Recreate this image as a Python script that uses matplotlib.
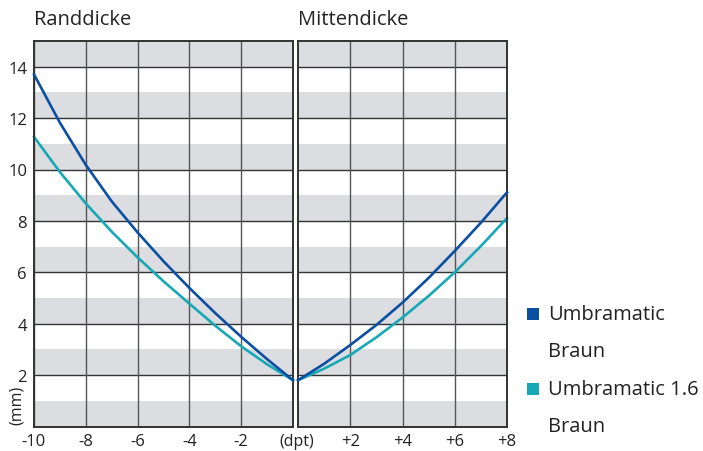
import matplotlib
matplotlib.use('Agg')
import matplotlib.pyplot as plt
from matplotlib.patches import Rectangle

plt.rcParams['font.family'] = ['Open Sans', 'DejaVu Sans']

# Randdicke (minus lenses), dpt -> mm
dpt_minus = [-10, -9, -8, -7, -6, -5, -4, -3, -2, -1, 0]
rand_umbramatic = [13.7, 11.82, 10.18, 8.76, 7.55, 6.43, 5.39, 4.41, 3.49, 2.62, 1.8]
rand_umbramatic16 = [11.27, 9.9, 8.68, 7.58, 6.58, 5.65, 4.78, 3.92, 3.12, 2.42, 1.8]

# Mittendicke (plus lenses)
dpt_plus = [0, 1, 2, 3, 4, 5, 6, 7, 8]
mitte_umbramatic = [1.8, 2.44, 3.17, 3.95, 4.82, 5.78, 6.83, 7.93, 9.11]
mitte_umbramatic16 = [1.8, 2.25, 2.78, 3.47, 4.24, 5.08, 6.0, 7.02, 8.11]

xticks_minus = [-10, -8, -6, -4, -2]
xticks_plus = [2, 4, 6, 8]
yticks = [2, 4, 6, 8, 10, 12, 14]
series_labels = ['Umbramatic\nBraun', 'Umbramatic 1.6\nBraun']

dark_blue = '#0b4fa3'
teal = '#16a9b5'
band = '#dcdde0'
txt = '#222222'

fig = plt.figure(figsize=(7.03, 4.52), dpi=100)
ax1 = fig.add_axes([34/703, 1-427.5/452, 259/703, 385.5/452])
ax2 = fig.add_axes([298/703, 1-427.5/452, 209/703, 385.5/452])

def setup(ax, xmin, xmax, xt):
    ax.set_xlim(xmin, xmax)
    ax.set_ylim(0, 15)
    for k in range(0, 15, 2):
        ax.axhspan(k, k+1, color=band, lw=0, zorder=0)
    for v in range(0, 15, 2):
        ax.axhline(v, color='#333333', lw=1.0, zorder=1)
    for v in xt:
        ax.axvline(v, color='#555555', lw=1.0, zorder=1)
    for s in ax.spines.values():
        s.set_color('#333333')
        s.set_linewidth(1.4)
    ax.tick_params(length=0, labelsize=12, colors=txt, pad=5)

setup(ax1, -10, 0, xticks_minus)
setup(ax2, 0, 8, xticks_plus)

ax1.plot(dpt_minus, rand_umbramatic, color=dark_blue, lw=1.9, zorder=3, clip_on=False)
ax1.plot(dpt_minus, rand_umbramatic16, color=teal, lw=1.9, zorder=2, clip_on=False)
ax2.plot(dpt_plus, mitte_umbramatic, color=dark_blue, lw=1.9, zorder=3, clip_on=False)
ax2.plot(dpt_plus, mitte_umbramatic16, color=teal, lw=1.9, zorder=2, clip_on=False)

ax1.set_xticks(xticks_minus)
ax1.set_xticklabels([str(v) for v in xticks_minus])
ax1.set_yticks(yticks)
ax1.set_yticklabels([str(v) for v in yticks])
ax2.set_xticks(xticks_plus)
ax2.set_xticklabels(['+' + str(v) for v in xticks_plus])
ax2.set_yticks([])

fig.text(34/703, 1-20/452, 'Randdicke', fontsize=14.5, color=txt, va='center', ha='left')
fig.text(298/703, 1-20/452, 'Mittendicke', fontsize=14.5, color=txt, va='center', ha='left')
fig.text(297/703, 1-442/452, '(dpt)', fontsize=11.5, color=txt, va='center', ha='center')
fig.text(17/703, 1-405/452, '(mm)', fontsize=11.5, color=txt, va='center', ha='center', rotation=90)

colors = [dark_blue, teal]
y_first = [315, 390]
for lab, c, yp in zip(series_labels, colors, y_first):
    fig.patches.append(Rectangle((527/703, 1-(yp+6)/452), 12/703, 12/452,
                                 transform=fig.transFigure, color=c, lw=0))
    l1, l2 = lab.split('\n')
    fig.text(548/703, 1-yp/452, l1, fontsize=14.5, color=txt, va='center', ha='left')
    fig.text(548/703, 1-(yp+37)/452, l2, fontsize=14.5, color=txt, va='center', ha='left')

plt.savefig('out.png', dpi=100)
